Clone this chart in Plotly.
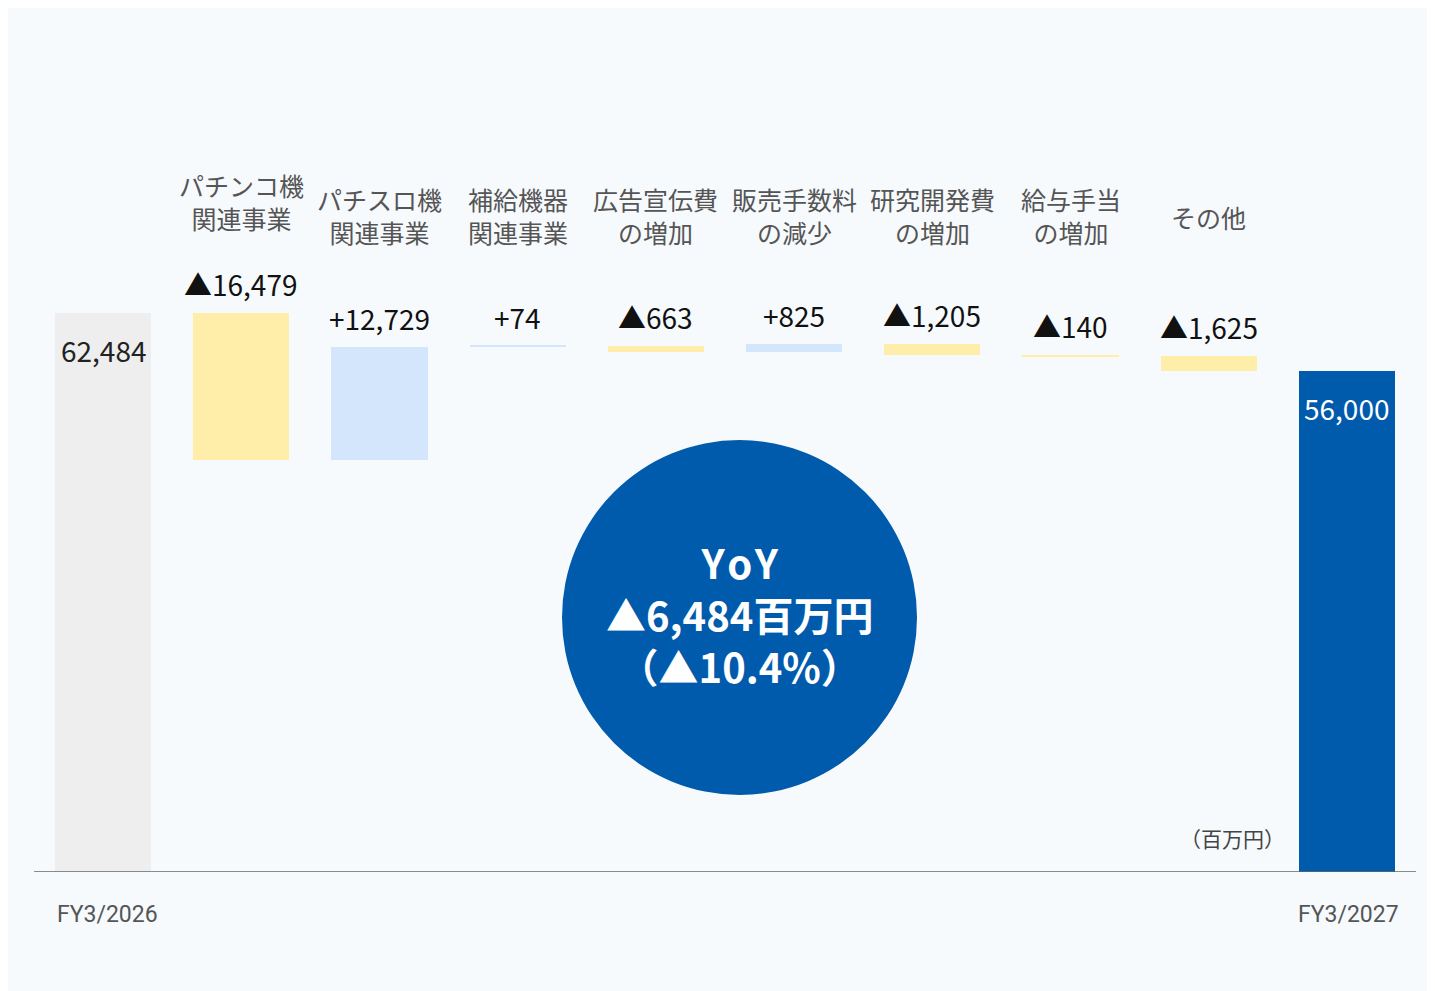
import plotly.graph_objects as go

# ---- data ----
categories = ["FY3/2026", "パチンコ機関連事業", "パチスロ機関連事業", "補給機器関連事業",
              "広告宣伝費の増加", "販売手数料の減少", "研究開発費の増加", "給与手当の増加",
              "その他", "FY3/2027"]
cat_labels = ["", "パチンコ機<br>関連事業", "パチスロ機<br>関連事業", "補給機器<br>関連事業",
              "広告宣伝費<br>の増加", "販売手数料<br>の減少", "研究開発費<br>の増加",
              "給与手当<br>の増加", "その他", ""]
start_total = 62484
end_total = 56000
changes = [-16479, 12729, 74, -663, 825, -1205, -140, -1625]
yoy_text = ["Y\u200ao\u200aY", "▲6,484百万円", "（▲10.4%）"]
unit_label = "（百万円）"

# ---- geometry helpers (reference page pixels -> figure) ----
OFF = 8  # page body margin
W, H = 1422, 983
PLOT_L, PLOT_R, PLOT_T, PLOT_B = 34 - OFF, 1416 - OFF, 60, 872 - OFF
L, R, T, B = PLOT_L, W - PLOT_R, PLOT_T, H - PLOT_B
PW, PH = PLOT_R - PLOT_L, PLOT_B - PLOT_T
YMAX = PH * 111.78


def px2paper_x(px_ref):
    return (px_ref - OFF - PLOT_L) / PW


def px2paper_y(py_ref):
    return (PLOT_B - (py_ref - OFF)) / PH


def fmt(v):
    s = f"{abs(v):,}"
    return ("+" if v > 0 else "▲") + s


# ---- build bars ----
bases, heights, colors, tops = [], [], [], []
bases.append(0); heights.append(start_total); colors.append("#eeeeee"); tops.append(start_total)
running = start_total
for c in changes:
    new = running + c
    bases.append(min(running, new))
    heights.append(abs(c))
    colors.append("#d3e6fb" if c > 0 else "#ffeeaa")
    tops.append(max(running, new))
    running = new
bases.append(0); heights.append(end_total); colors.append("#005bac"); tops.append(end_total)

x = list(range(len(categories)))

fig = go.Figure()
fig.add_trace(go.Bar(x=x, y=heights, base=bases, marker=dict(color=colors, line=dict(width=0)),
                     width=0.695, hoverinfo="skip", showlegend=False))

font_jp = "Noto Sans CJK JP"
annotations = []

# value labels
annotations.append(dict(x=0, y=tops[0], xref="x", yref="y", text=f"{start_total:,}",
                        showarrow=False, yshift=-37, yanchor="middle", xanchor="center",
                        font=dict(family=font_jp, size=28, color="#222222")))
for i, c in enumerate(changes, start=1):
    annotations.append(dict(x=i, y=tops[i], xref="x", yref="y", text=fmt(c),
                            showarrow=False, yshift=29, yanchor="middle", xanchor="center",
                            font=dict(family=font_jp, size=28, color="#111111")))
annotations.append(dict(x=9, y=tops[9], xref="x", yref="y", text=f"{end_total:,}",
                        showarrow=False, yshift=-37, yanchor="middle", xanchor="center",
                        font=dict(family=font_jp, size=28, color="#ffffff")))

# category labels
label_centers = [None, 201, 215, 215, 215, 215, 215, 215, 217, None]
for i, lab in enumerate(cat_labels):
    if not lab:
        continue
    annotations.append(dict(x=i, y=px2paper_y(label_centers[i]), xref="x", yref="paper",
                            text=lab, showarrow=False, yanchor="middle", xanchor="center",
                            font=dict(family=font_jp, size=25, color="#555555")))

# period labels
for txt, pxc in [(categories[0], 107), (categories[-1], 1348)]:
    annotations.append(dict(x=px2paper_x(pxc), y=px2paper_y(914), xref="paper", yref="paper",
                            text=txt, showarrow=False, yanchor="middle", xanchor="center",
                            font=dict(family="Roboto", size=23, color="#555555")))

# unit label
annotations.append(dict(x=px2paper_x(1287), y=px2paper_y(838), xref="paper", yref="paper",
                        text=unit_label, showarrow=False, xanchor="right", yanchor="middle",
                        font=dict(family=font_jp, size=21, color="#444444")))

# circle text (single block)
annotations.append(dict(x=px2paper_x(739), y=px2paper_y(614), xref="paper", yref="paper",
                        text="<br>".join(f"<b>{t}</b>" for t in yoy_text),
                        showarrow=False, yanchor="middle", xanchor="center", align="center",
                        font=dict(family=font_jp, size=40, color="#ffffff")))

shapes = [
    # baseline axis
    dict(type="line", xref="paper", yref="y", x0=0, x1=1, y0=0, y1=0,
         line=dict(color="#666666", width=1.5), layer="above"),
    # YoY circle
    dict(type="circle", xref="paper", yref="paper", x0=px2paper_x(562), x1=px2paper_x(917),
         y0=px2paper_y(795), y1=px2paper_y(440), fillcolor="#005bac", line=dict(width=0),
         layer="above"),
]

fig.update_layout(
    width=W, height=H, autosize=False,
    margin=dict(l=L, r=R, t=T, b=B, pad=0),
    paper_bgcolor="#f6fafd", plot_bgcolor="rgba(0,0,0,0)",
    xaxis=dict(range=[-0.5, 9.5], showgrid=False, zeroline=False, showticklabels=False,
               showline=False, ticks="", fixedrange=True),
    yaxis=dict(range=[0, YMAX], showgrid=False, zeroline=False, showticklabels=False,
               showline=False, ticks="", fixedrange=True),
    bargap=0, annotations=annotations, shapes=shapes,
    font=dict(family=font_jp),
)

fig.write_html("out.html")
